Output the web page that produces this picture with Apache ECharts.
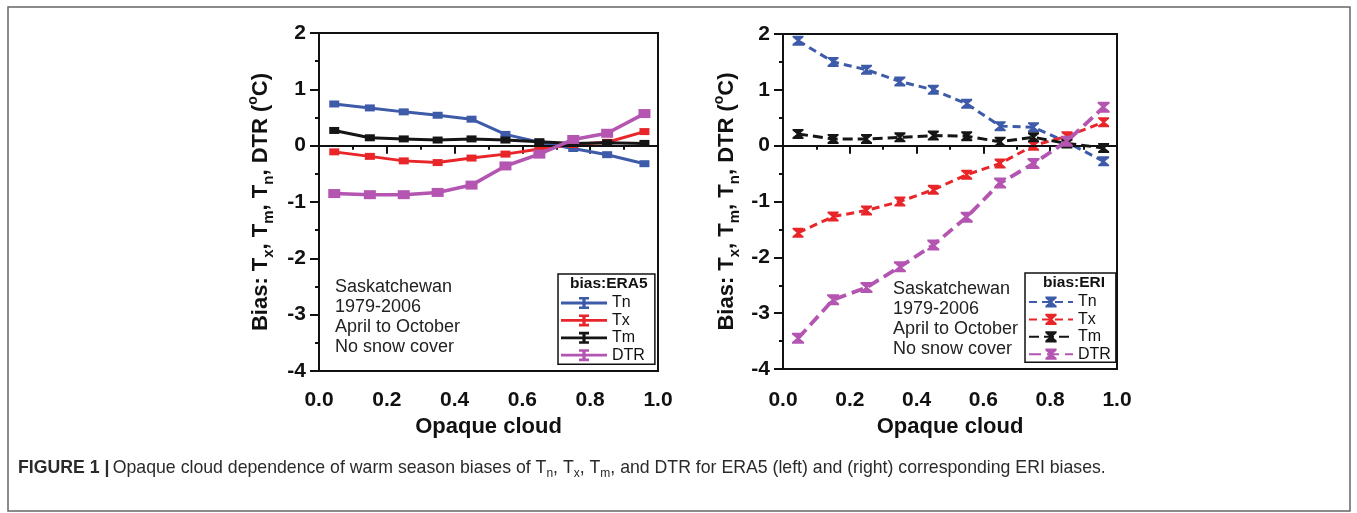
<!DOCTYPE html>
<html><head><meta charset="utf-8">
<script src="https://cdn.jsdelivr.net/npm/echarts@6/dist/echarts.min.js"></script>
<style>html,body{margin:0;padding:0;background:#fff}#c{width:1357px;height:513px}</style>
</head><body><div id="c"></div>
<script>
// ---- data ----
const cloudBins = [0.045, 0.15, 0.25, 0.35, 0.45, 0.55, 0.65, 0.75, 0.85, 0.96];
const variables = ['Tn', 'Tx', 'Tm', 'DTR'];
const era5Tn  = [0.74, 0.67, 0.60, 0.54, 0.47, 0.20, 0.06, -0.05, -0.16, -0.32];
const era5Tx  = [-0.11, -0.19, -0.27, -0.30, -0.22, -0.15, -0.06, 0.02, 0.06, 0.25];
const era5Tm  = [0.27, 0.14, 0.12, 0.10, 0.12, 0.10, 0.07, 0.04, 0.05, 0.04];
const era5DTR = [-0.85, -0.87, -0.87, -0.83, -0.70, -0.36, -0.15, 0.11, 0.22, 0.57];
const eriTn   = [1.88, 1.50, 1.36, 1.15, 1.00, 0.75, 0.35, 0.33, 0.06, -0.28];
const eriTx   = [-1.56, -1.27, -1.16, -1.00, -0.79, -0.52, -0.32, 0.00, 0.17, 0.42];
const eriTm   = [0.21, 0.12, 0.12, 0.15, 0.18, 0.17, 0.07, 0.15, 0.04, -0.04];
const eriDTR  = [-3.45, -2.76, -2.54, -2.17, -1.78, -1.28, -0.67, -0.32, 0.08, 0.69];
const yMin = -4, yMax = 2, yStep = 1;
const xMin = 0, xMax = 1, xStep = 0.2;
const legendTitles = ['bias:ERA5', 'bias:ERI'];
const noteLines = ['Saskatchewan', '1979-2006', 'April to October', 'No snow cover'];

// ---- styling ----
const FONT = 'Liberation Sans, Arial, Helvetica, sans-serif';
const colors = { Tn: '#3D5BA9', Tx: '#E8262A', Tm: '#151515', DTR: '#B455B1' };
const ibeamIcon = 'path://M0,4.6H46V7.4H0Z M18,0H28V2.6H24.6V9.4H28V12H18V9.4H21.4V2.6H18Z';
const hourglass = 'path://M0,0H10V1.6L6.2,5L10,8.4V10H0V8.4L3.8,5L0,1.6Z';

const eraData = { Tn: era5Tn, Tx: era5Tx, Tm: era5Tm, DTR: era5DTR };
const eriData = { Tn: eriTn, Tx: eriTx, Tm: eriTm, DTR: eriDTR };

const yName = '{m|Bias: T}{s|x}{m|, T}{s|m}{m|, T}{s|n}{m|, DTR (}{p|o}{m|C)}';
const nameRich = {
  m: { fontSize: 22, fontWeight: 'bold', fontFamily: FONT, color: '#111', lineHeight: 30, verticalAlign: 'middle' },
  s: { fontSize: 15, fontWeight: 'bold', fontFamily: FONT, color: '#111', lineHeight: 20, verticalAlign: 'bottom' },
  p: { fontSize: 14, fontWeight: 'bold', fontFamily: FONT, color: '#111', lineHeight: 8, verticalAlign: 'top' }
};

function xAxisCfg(gi, gap, margin) {
  return {
    type: 'value', gridIndex: gi, min: xMin, max: xMax, interval: xStep,
    name: 'Opaque cloud', nameLocation: 'middle', nameGap: gap,
    nameTextStyle: { fontSize: 22, fontWeight: 'bold', fontFamily: FONT, color: '#111' },
    axisLine: { lineStyle: { color: '#111', width: 2 } },
    axisTick: { inside: false, length: 8, lineStyle: { color: '#111', width: 2 } },
    minorTick: { show: true, splitNumber: 2, length: 4, lineStyle: { color: '#111', width: 2 } },
    splitLine: { show: false },
    axisLabel: { margin: margin, fontSize: 21, fontWeight: 'bold', fontFamily: FONT, color: '#111',
      formatter: v => v.toFixed(1) }
  };
}
function yAxisCfg(gi, gap) {
  return {
    type: 'value', gridIndex: gi, min: yMin, max: yMax, interval: yStep,
    name: yName, nameLocation: 'middle', nameGap: gap,
    nameTextStyle: { rich: nameRich },
    axisLine: { lineStyle: { color: '#111', width: 2 } },
    axisTick: { inside: false, length: 9, lineStyle: { color: '#111', width: 2 } },
    minorTick: { show: true, splitNumber: 2, length: 4, lineStyle: { color: '#111', width: 2 } },
    splitLine: { show: false },
    axisLabel: { margin: 13, fontSize: 21, fontWeight: 'bold', fontFamily: FONT, color: '#111' }
  };
}

const zeroLine = {
  silent: true, symbol: ['none', 'none'], label: { show: false }, animation: false,
  lineStyle: { color: '#111', width: 1.8, type: 'solid' }, data: [{ yAxis: 0 }]
};

const series = [];
variables.forEach((v, k) => {
  const big = v === 'DTR';
  series.push({
    name: 'ERA5 ' + v, type: 'line', xAxisIndex: 0, yAxisIndex: 0,
    data: cloudBins.map((x, i) => [x, eraData[v][i]]),
    symbol: 'rect', symbolSize: big ? [12, 9] : [10, 7],
    lineStyle: { color: colors[v], width: big ? 3.6 : 3 },
    itemStyle: { color: colors[v] },
    z: 3 + k,
    markLine: k === 0 ? zeroLine : undefined
  });
});
variables.forEach((v, k) => {
  const big = v === 'DTR';
  series.push({
    name: 'ERI ' + v, type: 'line', xAxisIndex: 1, yAxisIndex: 1,
    data: cloudBins.map((x, i) => [x, eriData[v][i]]),
    symbol: hourglass, symbolSize: big ? [12, 11] : [11, 10],
    lineStyle: { color: colors[v], width: big ? 3.8 : 3, type: big ? [12, 6] : (v === 'Tm' ? [10, 5] : [8, 5]) },
    itemStyle: { color: colors[v] },
    z: 3 + k,
    markLine: k === 0 ? zeroLine : undefined
  });
});

const legendText = { fontSize: 16, fontFamily: FONT, color: '#111' };
const option = {
  backgroundColor: '#fff',
  animation: false,
  grid: [
    { left: 319, top: 33, width: 339, height: 338, show: true, borderColor: '#111', borderWidth: 2, backgroundColor: 'transparent' },
    { left: 783, top: 34, width: 334, height: 335, show: true, borderColor: '#111', borderWidth: 2, backgroundColor: 'transparent' }
  ],
  xAxis: [xAxisCfg(0, 45, 19), xAxisCfg(1, 47, 21)],
  yAxis: [yAxisCfg(0, 43), yAxisCfg(1, 41)],
  title: [
    { text: legendTitles[0], left: 570, top: 276, padding: 0, textStyle: { fontSize: 15.5, fontWeight: 'bold', fontFamily: FONT, color: '#111' } },
    { text: legendTitles[1], left: 1043, top: 275, padding: 0, textStyle: { fontSize: 15.5, fontWeight: 'bold', fontFamily: FONT, color: '#111' } }
  ],
  legend: [
    { left: 558, top: 274, orient: 'vertical', selectedMode: false,
      data: variables.map(v => ({ name: 'ERA5 ' + v, icon: ibeamIcon })),
      formatter: n => n.replace('ERA5 ', ''),
      itemWidth: 46, itemHeight: 12, itemGap: 1.4, itemTextGap: 3,
      padding: [21, 10, 1, 3], borderColor: '#111', borderWidth: 1.5, textStyle: legendText },
    { left: 1025, top: 273, orient: 'vertical', selectedMode: false,
      data: variables.map(v => 'ERI ' + v),
      formatter: n => n.replace('ERI ', ''),
      itemWidth: 44, itemHeight: 14, itemGap: 1.4, itemTextGap: 3,
      padding: [21, 5, 0, 3], borderColor: '#111', borderWidth: 1.5, textStyle: legendText }
  ],
  graphic: [
    { type: 'rect', shape: { x: 8, y: 7, width: 1342, height: 504 }, style: { fill: 'none', stroke: '#666', lineWidth: 1.5 }, silent: true, z: -1 },
    { type: 'text', left: 335, top: 277, style: { text: noteLines.join('\n'), font: '18px ' + FONT, lineHeight: 20, fill: '#222' } },
    { type: 'text', left: 893, top: 279, style: { text: noteLines.join('\n'), font: '18px ' + FONT, lineHeight: 20, fill: '#222' } },
    { type: 'text', left: 18, top: 459, style: {
        text: '{b|FIGURE 1 |} {n|Opaque cloud dependence of warm season biases of T}{s|n}{n|, T}{s|x}{n|, T}{s|m}{n|, and DTR for ERA5 (left) and (right) corresponding ERI biases.}',
        rich: {
          b: { fontSize: 17.7, fontWeight: 'bold', fontFamily: FONT, fill: '#2a2a2a', lineHeight: 24, verticalAlign: 'middle' },
          n: { fontSize: 17.7, fontFamily: FONT, fill: '#2a2a2a', lineHeight: 24, verticalAlign: 'middle' },
          s: { fontSize: 12, fontFamily: FONT, fill: '#2a2a2a', lineHeight: 15, verticalAlign: 'bottom' }
        }
      } }
  ],
  series: series
};
const chart = echarts.init(document.getElementById('c'), null, { renderer: 'canvas' });
chart.setOption(option);
</script></body></html>
